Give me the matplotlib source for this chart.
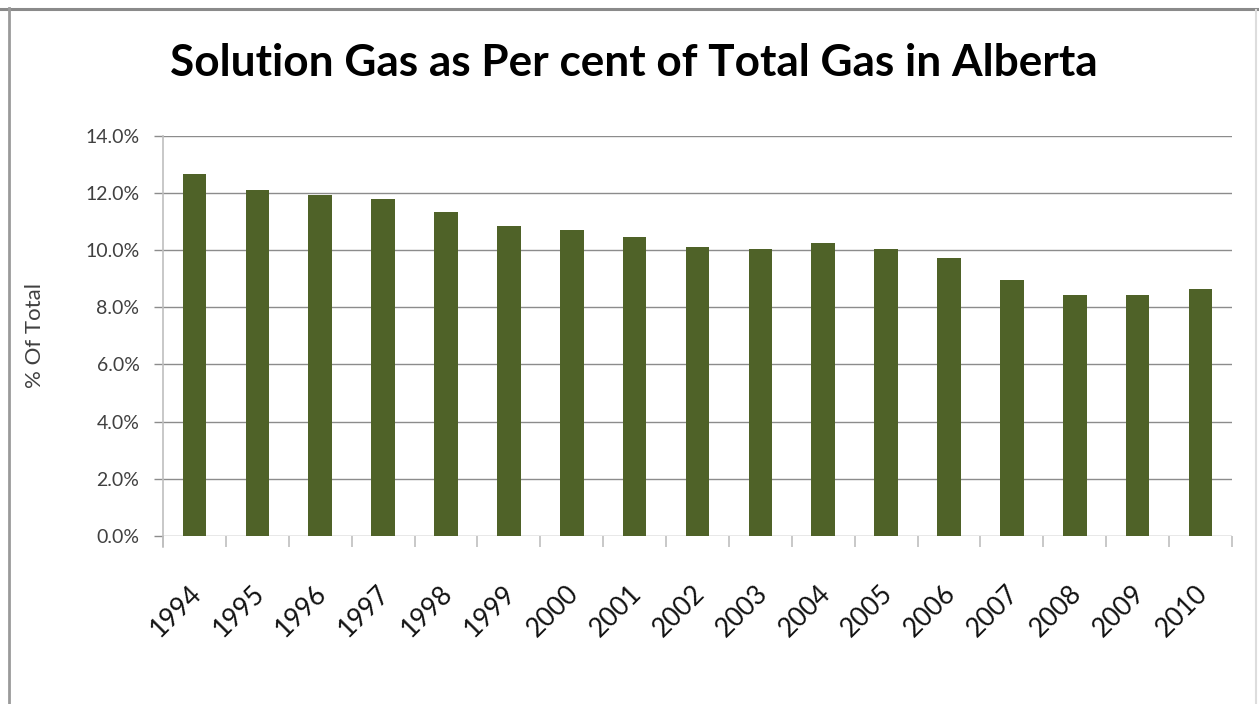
import numpy as np
import matplotlib.pyplot as plt
import matplotlib.transforms as mtransforms
from matplotlib.ticker import FuncFormatter, FixedLocator
from matplotlib.lines import Line2D

## data

years = ['1994', '1995', '1996', '1997', '1998', '1999', '2000', '2001', '2002',
         '2003', '2004', '2005', '2006', '2007', '2008', '2009', '2010']
pct_solution_gas = [12.67, 12.12, 11.95, 11.78, 11.33, 10.85, 10.72, 10.45, 10.10,
                    10.03, 10.24, 10.04, 9.72, 8.97, 8.44, 8.44, 8.64]

bar_color = '#4f6228'
grid_color = '#8c8c8c'
axis_color = '#bfbfbf'

plt.rcParams['font.family'] = ['Lato', 'DejaVu Sans']

fig = plt.figure(figsize=(12.59, 7.04), dpi=100)
ax = fig.add_axes([163/1259, 1 - 535.7/704, (1232 - 163)/1259, (535.7 - 136)/704])

x = np.arange(len(years))
ax.bar(x, pct_solution_gas, width=0.375, color=bar_color, zorder=3)

ax.set_xlim(-0.5, len(years) - 0.5)
ax.set_ylim(0, 14)

# y axis: gridlines every 2%
ax.set_yticks(np.arange(0, 14.1, 2))
ax.yaxis.set_major_formatter(FuncFormatter(lambda v, p: f'{v:.1f}%'))
ax.grid(axis='y', color=grid_color, linewidth=1.0, zorder=0)
ax.tick_params(axis='y', direction='out', length=6.5, width=1.0, color=grid_color,
               labelsize=14, labelcolor='#404040', pad=10.5)
ax.set_ylabel('% Of Total', fontsize=16, color='#404040')
ax.yaxis.set_label_coords(-0.11, 0.5)

# x axis: labels at bar centres, tick marks at category boundaries
ax.set_xticks(x)
ax.set_xticklabels(years, rotation=45, ha='right', va='center', rotation_mode='anchor')
ax.tick_params(axis='x', which='major', length=0, labelsize=19, labelcolor='#111111', pad=39)
shift = mtransforms.ScaledTranslation(3/100, 0, fig.dpi_scale_trans)
for lab in ax.get_xticklabels():
    lab.set_transform(lab.get_transform() + shift)
ax.xaxis.set_minor_locator(FixedLocator(np.arange(-0.5, len(years), 1.0)))
ax.tick_params(axis='x', which='minor', direction='out', length=8, width=1.2, color=axis_color)

for s in ['top', 'right', 'bottom']:
    ax.spines[s].set_visible(False)
ax.spines['left'].set_color(axis_color)
ax.spines['left'].set_linewidth(1.2)
ax.spines['left'].set_bounds(-0.38, 14)

fig.text(633.5/1259, 1 - 63/704, 'Solution Gas as Per cent of Total Gas in Alberta',
         ha='center', va='center', fontsize=31.8, fontweight='bold', color='black')

# chart frame
fig.add_artist(Line2D([0, 1], [1 - 9/704, 1 - 9/704], color='#8a8a8a', linewidth=2.2))
fig.add_artist(Line2D([9/1259, 9/1259], [0, 1 - 8/704], color='#9a9a9a', linewidth=2.0))
fig.add_artist(Line2D([1256/1259, 1256/1259], [0, 1 - 10/704], color='#dddddd', linewidth=1.5))

fig.savefig('out.png', dpi=100)
